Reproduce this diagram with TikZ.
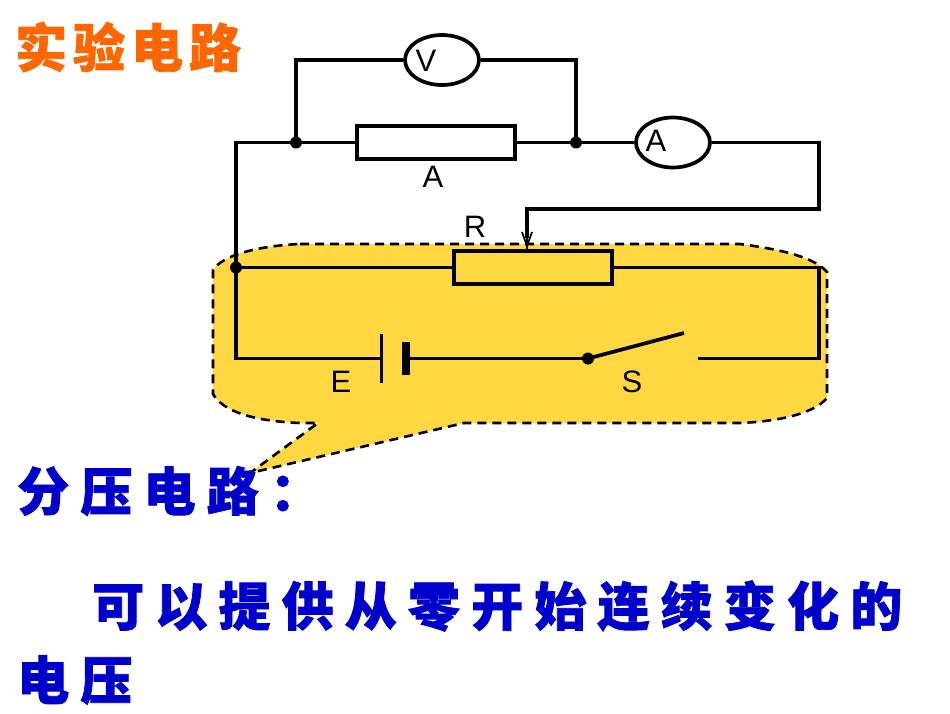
\documentclass[tikz,border=0pt]{standalone}
\usepackage{fontspec}
\setmainfont{Liberation Sans}
\newfontfamily\cjktitle[LetterSpace=11.5,BoldFeatures={FakeBold=1.5}]{Noto Sans CJK SC}
\newfontfamily\cjkbody[LetterSpace=21.5,BoldFeatures={FakeBold=1.5}]{Noto Sans CJK SC}
\usetikzlibrary{shapes.geometric,arrows.meta}
\definecolor{calloutfill}{RGB}{255,215,64}
\definecolor{titleorange}{RGB}{255,102,0}
\definecolor{bodyblue}{RGB}{0,0,204}
\tikzset{
  wire/.style={line width=3.7pt,line join=miter,line cap=butt},
  meter/.style={ellipse,draw,line width=3.7pt,fill=white,minimum width=74pt,minimum height=50pt,inner sep=0pt},
  resistor/.style={rectangle,draw,line width=3.7pt,minimum width=158pt,minimum height=33pt,inner sep=0pt},
  junction/.style={circle,fill=black,minimum size=12pt,inner sep=0pt},
  lbl/.style={inner sep=0pt,font=\fontsize{31}{31}\selectfont},
  titletext/.style={anchor=west,inner sep=0pt,text=titleorange,font=\cjktitle\bfseries\fontsize{52}{52}\selectfont},
  bodytext/.style={anchor=west,inner sep=0pt,text=bodyblue,font=\cjkbody\bfseries\fontsize{52}{52}\selectfont},
  callout/.style={fill=calloutfill,draw=black,line width=2.6pt,dash pattern=on 9pt off 6pt}
}
\begin{document}
\begin{tikzpicture}[x=1pt,y=-1pt]
\useasboundingbox (0,0) rectangle (950,713);
% callout
\draw[callout] (300,244) -- (740,244)
  .. controls (785,250) and (815,258) .. (827,272)
  -- (827,398)
  .. controls (815,412) and (785,421) .. (740,423)
  -- (464,423) -- (250,473) -- (318,423) -- (300,423)
  .. controls (250,421) and (222,410) .. (213,394)
  -- (213,270)
  .. controls (222,256) and (255,246) .. (300,244) -- cycle;
% nodes
\node[meter] (vm) at (442,60) {};
\node[meter] (am) at (673,142.5) {};
\node[resistor] (ra) at (436,142.5) {};
\node[resistor] (rr) at (533,267.5) {};
\node[junction] (j1) at (296,142.5) {};
\node[junction] (j2) at (576,142.5) {};
\node[junction] (j3) at (236,267.5) {};
\node[junction] (j4) at (588,358.5) {};
\coordinate (tl) at (236,142.5);
\coordinate (tr) at (819,142.5);
\coordinate (tr2) at (819,209);
\coordinate (slide) at (527,209);
\coordinate (rr2) at (819,267.5);
\coordinate (bl) at (236,358.5);
\coordinate (br) at (819,358.5);
\coordinate (plateA) at (381,358.5);
\coordinate (plateB) at (406,358.5);
\coordinate (swtip) at (684,333);
\coordinate (swright) at (698,358.5);
% wires
\draw[wire] (vm.west) -| (j1.center);
\draw[wire] (vm.east) -| (j2.center);
\draw[wire] (am.east) -- (tr) -- (tr2) -- (slide) -- (527,238);
\draw[wire] (am.west) -- (j2.center) -- (ra.east);
\draw[wire] (ra.west) -- (j1.center) -- (tl) -- (bl) -- (plateA);
\draw[wire] (j3.center) -- (rr.west);
\draw[wire] (rr.east) -- (rr2) -- (br) -- (swright);
\draw[wire] (plateB) -- (j4.center);
\draw[wire] (j4.center) -- (swtip);
% slider arrow
\draw[line width=1.8pt] (522,232) -- (527,246) -- (532,232);
\draw[line width=2pt] (527,236) -- (527,250);
% battery
\draw[line width=3pt] (381,334) -- (381,383);
\draw[line width=7.5pt] (406,342) -- (406,375);
% labels
\node[lbl] (lv) at (426,61) {V};
\node[lbl] (la) at (656,141) {A};
\node[lbl] (lra) at (433,177) {A};
\node[lbl] (lr) at (475,227) {R};
\node[lbl] (le) at (341,382) {E};
\node[lbl] (ls) at (632,382) {S};
% text
\node[titletext] (title) at (15,47) {实验电路};
\node[bodytext] (t1) at (17,491) {分压电路：};
\node[bodytext] (t2) at (92,606) {可以提供从零开始连续变化的};
\node[bodytext] (t3) at (17,680) {电压};
\end{tikzpicture}
\end{document}
